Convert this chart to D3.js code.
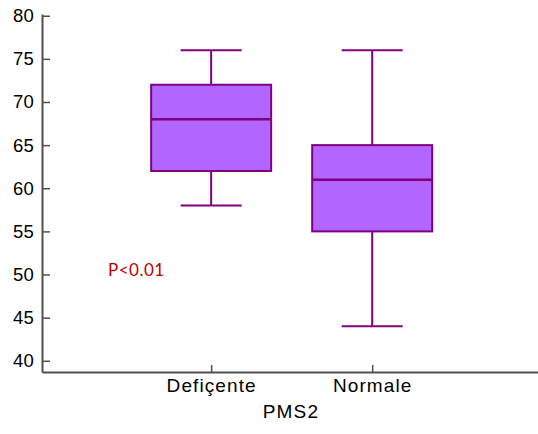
<!DOCTYPE html>
<html>
<head>
<meta charset="utf-8">
<script src="https://cdn.jsdelivr.net/npm/d3@7"></script>
<style>
  body { margin: 0; background: #fff; }
  svg { display: block; }
</style>
</head>
<body>
<div id="chart"></div>
<script>
// data
var groups = ["Deficente", "Normale"];
var groupLabels = ["Defiçente", "Normale"];
var whiskerLow = [58, 44];
var q1 = [62, 55];
var median = [68, 61];
var q3 = [72, 65];
var whiskerHigh = [76, 76];
var yTicks = [40, 45, 50, 55, 60, 65, 70, 75, 80];

var width = 538, height = 434;

var svg = d3.select("#chart")
  .append("svg")
  .attr("width", width)
  .attr("height", height);

var x = d3.scalePoint()
  .domain(groups)
  .range([42, 538])
  .padding(1.04)
  .align(0.505);

var y = d3.scaleLinear()
  .domain([38.7, 80.2])
  .range([372, 14]);

// Y axis
var yAxis = svg.append("g")
  .attr("transform", "translate(42,0)")
  .call(d3.axisLeft(y).tickValues(yTicks).tickSize(-8).tickPadding(8).tickSizeOuter(0));
yAxis.select(".domain").attr("stroke", "#505050").attr("stroke-width", 2);
yAxis.selectAll(".tick line").attr("stroke", "#505050").attr("stroke-width", 1.5);
yAxis.selectAll("text")
  .style("font-family", "'Liberation Sans', Arial, sans-serif")
  .style("font-size", "18.5px")
  .style("letter-spacing", "0.2px")
  .attr("fill", "#000");

// X axis
var xAxis = svg.append("g")
  .attr("transform", "translate(0,372)")
  .call(d3.axisBottom(x).tickSize(-7).tickPadding(7).tickSizeOuter(0)
    .tickFormat(function (d, i) { return groupLabels[i]; }));
xAxis.select(".domain").attr("stroke", "#505050").attr("stroke-width", 2);
xAxis.selectAll(".tick line").attr("stroke", "#505050").attr("stroke-width", 1.5);
xAxis.selectAll("text")
  .style("font-family", "'Liberation Sans', Arial, sans-serif")
  .style("font-size", "19px")
  .style("letter-spacing", "1.1px")
  .attr("fill", "#000");

svg.append("text")
  .attr("x", 291)
  .attr("y", 418)
  .attr("text-anchor", "middle")
  .style("font-family", "'Liberation Sans', Arial, sans-serif")
  .style("font-size", "19px")
  .style("letter-spacing", "1.2px")
  .text("PMS2");

// boxes
var boxHalf = 60, capHalf = 30.5;
var stroke = "#800080", fill = "#B266FF";

var g = svg.selectAll(".box")
  .data(groups)
  .enter()
  .append("g")
  .attr("class", "box");

// whiskers
g.append("line")
  .attr("x1", function (d) { return x(d); })
  .attr("x2", function (d) { return x(d); })
  .attr("y1", function (d, i) { return y(whiskerLow[i]); })
  .attr("y2", function (d, i) { return y(whiskerHigh[i]); })
  .attr("stroke", stroke).attr("stroke-width", 2);

g.append("line")
  .attr("x1", function (d) { return x(d) - capHalf; })
  .attr("x2", function (d) { return x(d) + capHalf; })
  .attr("y1", function (d, i) { return y(whiskerLow[i]); })
  .attr("y2", function (d, i) { return y(whiskerLow[i]); })
  .attr("stroke", stroke).attr("stroke-width", 2);

g.append("line")
  .attr("x1", function (d) { return x(d) - capHalf; })
  .attr("x2", function (d) { return x(d) + capHalf; })
  .attr("y1", function (d, i) { return y(whiskerHigh[i]); })
  .attr("y2", function (d, i) { return y(whiskerHigh[i]); })
  .attr("stroke", stroke).attr("stroke-width", 2);

g.append("rect")
  .attr("x", function (d) { return x(d) - boxHalf; })
  .attr("y", function (d, i) { return y(q3[i]); })
  .attr("width", boxHalf * 2)
  .attr("height", function (d, i) { return y(q1[i]) - y(q3[i]); })
  .attr("fill", fill)
  .attr("stroke", stroke)
  .attr("stroke-width", 2);

g.append("line")
  .attr("x1", function (d) { return x(d) - boxHalf; })
  .attr("x2", function (d) { return x(d) + boxHalf; })
  .attr("y1", function (d, i) { return y(median[i]); })
  .attr("y2", function (d, i) { return y(median[i]); })
  .attr("stroke", stroke).attr("stroke-width", 2.5);

// p value note
svg.append("text")
  .attr("x", 108)
  .attr("y", 276)
  .style("font-family", "Lato, 'Open Sans', sans-serif")
  .style("font-size", "17px")
  .style("letter-spacing", "0.5px")
  .attr("fill", "#C00000")
  .text("P<0.01");
</script>
</body>
</html>
